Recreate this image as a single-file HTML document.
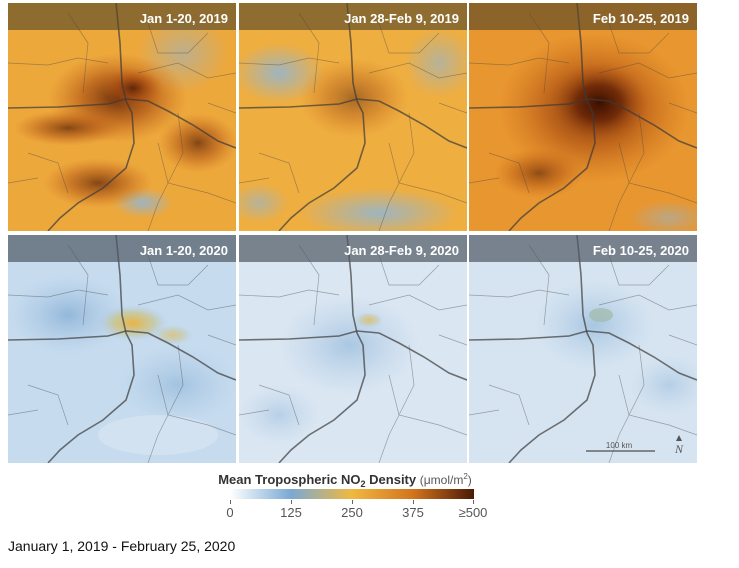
<!DOCTYPE html>
<html><head><meta charset="utf-8"><style>
body{margin:0;background:#fff;width:739px;height:568px;overflow:hidden;font-family:"Liberation Sans",sans-serif}
</style></head><body>
<svg width="739" height="568" viewBox="0 0 739 568" xmlns="http://www.w3.org/2000/svg" style="position:absolute;left:0;top:0">
<defs>
<clipPath id="pc"><rect width="228" height="228"/></clipPath>
<radialGradient id="hotA"><stop offset="0" stop-color="#5a2006" stop-opacity="0.9"/><stop offset="0.5" stop-color="#a4470f" stop-opacity="0.6"/><stop offset="1" stop-color="#c8641a" stop-opacity="0"/></radialGradient>
<radialGradient id="hotB"><stop offset="0" stop-color="#3a1002" stop-opacity="1"/><stop offset="0.45" stop-color="#6a2606" stop-opacity="0.85"/><stop offset="1" stop-color="#c0601a" stop-opacity="0"/></radialGradient>
<radialGradient id="blueP"><stop offset="0" stop-color="#8fb6d8" stop-opacity="0.85"/><stop offset="1" stop-color="#8fb6d8" stop-opacity="0"/></radialGradient>
<radialGradient id="yelP"><stop offset="0" stop-color="#e9b443" stop-opacity="1"/><stop offset="0.6" stop-color="#c9c07a" stop-opacity="0.6"/><stop offset="1" stop-color="#a9c6e0" stop-opacity="0"/></radialGradient>
<radialGradient id="bluD"><stop offset="0" stop-color="#8db4d8" stop-opacity="0.9"/><stop offset="1" stop-color="#a9c8e4" stop-opacity="0"/></radialGradient>
<linearGradient id="cbar" x1="0" x2="1"><stop offset="0" stop-color="#ffffff"/><stop offset="0.25" stop-color="#7aa9d4"/><stop offset="0.5" stop-color="#f0b840"/><stop offset="0.75" stop-color="#d2741e"/><stop offset="1" stop-color="#4a1a06"/></linearGradient>
<g id="roads" fill="none">
<path d="M108 0 L112 40 L114 80 L118 98 L124 110 L126 140 L118 165 L95 185 L70 200 L52 215 L40 228" stroke="#3a3a3a" stroke-width="1.6" stroke-opacity="0.7"/>
<path d="M0 105 L50 104 L100 101 L118 96 L140 98 L160 108 L185 122 L210 138 L228 145" stroke="#3a3a3a" stroke-width="1.6" stroke-opacity="0.7"/>
<path d="M0 60 L40 62 L70 55 L100 60 M130 70 L170 60 L200 75 L228 70 M20 150 L50 160 L60 190 M150 140 L160 180 L200 190 L228 200 M140 20 L150 50 L180 50 L200 30 M60 10 L80 40 L75 90 M170 110 L175 150 L150 200 L140 228 M0 180 L30 175 M200 100 L228 110" stroke="#444" stroke-width="0.7" stroke-opacity="0.45"/>
</g>
</defs>
<!-- Panel 1 -->
<g transform="translate(8,3)"><g clip-path="url(#pc)"><rect width="228" height="228" fill="#eda83c"/>
<ellipse cx="175" cy="50" rx="45" ry="40" fill="url(#blueP)" opacity="0.6"/>
<ellipse cx="135" cy="200" rx="30" ry="15" fill="url(#blueP)"/>
<ellipse cx="110" cy="95" rx="70" ry="45" fill="url(#hotA)"/>
<ellipse cx="125" cy="85" rx="30" ry="20" fill="url(#hotA)"/>
<ellipse cx="60" cy="125" rx="55" ry="18" fill="url(#hotA)" opacity="0.8"/>
<ellipse cx="90" cy="180" rx="55" ry="25" fill="url(#hotA)" opacity="0.8"/>
<ellipse cx="190" cy="140" rx="40" ry="30" fill="url(#hotA)" opacity="0.8"/>
<use href="#roads"/><rect width="228" height="27" fill="#5a4a28" opacity="0.65"/></g>
<text x="220" y="20" text-anchor="end" font-size="13" font-weight="bold" fill="#fff">Jan 1-20, 2019</text></g>
<!-- Panel 2 -->
<g transform="translate(239,3)"><g clip-path="url(#pc)"><rect width="228" height="228" fill="#efae40"/>
<ellipse cx="40" cy="70" rx="45" ry="30" fill="url(#blueP)"/>
<ellipse cx="200" cy="60" rx="35" ry="35" fill="url(#blueP)" opacity="0.7"/>
<ellipse cx="140" cy="210" rx="80" ry="25" fill="url(#blueP)"/>
<ellipse cx="20" cy="200" rx="30" ry="20" fill="url(#blueP)" opacity="0.7"/>
<ellipse cx="115" cy="95" rx="55" ry="40" fill="url(#hotA)" opacity="0.55"/>
<use href="#roads"/><rect width="228" height="27" fill="#5a4a28" opacity="0.65"/></g>
<text x="220" y="20" text-anchor="end" font-size="13" font-weight="bold" fill="#fff">Jan 28-Feb 9, 2019</text></g>
<!-- Panel 3 -->
<g transform="translate(469,3)"><g clip-path="url(#pc)"><rect width="228" height="228" fill="#e8962f"/>
<ellipse cx="200" cy="215" rx="40" ry="18" fill="url(#blueP)" opacity="0.6"/>
<ellipse cx="125" cy="105" rx="95" ry="75" fill="url(#hotA)"/>
<ellipse cx="130" cy="100" rx="50" ry="40" fill="url(#hotB)"/>
<ellipse cx="70" cy="170" rx="45" ry="25" fill="url(#hotA)" opacity="0.7"/>
<use href="#roads"/><rect width="228" height="27" fill="#5a4a28" opacity="0.65"/></g>
<text x="220" y="20" text-anchor="end" font-size="13" font-weight="bold" fill="#fff">Feb 10-25, 2019</text></g>
<!-- Panel 4 -->
<g transform="translate(8,235)"><g clip-path="url(#pc)"><rect width="228" height="228" fill="#c6dbee"/>
<ellipse cx="60" cy="80" rx="60" ry="40" fill="url(#bluD)"/>
<ellipse cx="170" cy="150" rx="60" ry="40" fill="url(#bluD)" opacity="0.7"/>
<ellipse cx="150" cy="200" rx="60" ry="20" fill="#e6eef6" opacity="0.4"/>
<ellipse cx="125" cy="88" rx="35" ry="18" fill="url(#yelP)"/>
<ellipse cx="165" cy="100" rx="20" ry="10" fill="url(#yelP)" opacity="0.6"/>
<use href="#roads"/><rect width="228" height="27" fill="#4e5864" opacity="0.7"/></g>
<text x="220" y="20" text-anchor="end" font-size="13" font-weight="bold" fill="#fff">Jan 1-20, 2020</text></g>
<!-- Panel 5 -->
<g transform="translate(239,235)"><g clip-path="url(#pc)"><rect width="228" height="228" fill="#dae6f2"/>
<ellipse cx="110" cy="110" rx="70" ry="50" fill="url(#bluD)" opacity="0.7"/>
<ellipse cx="40" cy="180" rx="40" ry="30" fill="url(#bluD)" opacity="0.5"/>
<ellipse cx="130" cy="85" rx="14" ry="8" fill="url(#yelP)" opacity="0.7"/>
<use href="#roads"/><rect width="228" height="27" fill="#4e5864" opacity="0.7"/></g>
<text x="220" y="20" text-anchor="end" font-size="13" font-weight="bold" fill="#fff">Jan 28-Feb 9, 2020</text></g>
<!-- Panel 6 -->
<g transform="translate(469,235)"><g clip-path="url(#pc)"><rect width="228" height="228" fill="#d6e4f1"/>
<ellipse cx="125" cy="90" rx="60" ry="45" fill="url(#bluD)" opacity="0.7"/>
<ellipse cx="200" cy="150" rx="40" ry="30" fill="url(#bluD)" opacity="0.5"/>
<ellipse cx="132" cy="80" rx="12" ry="7" fill="#9fb9a8" opacity="0.7"/>
<use href="#roads"/><rect width="228" height="27" fill="#4e5864" opacity="0.7"/></g>
<text x="220" y="20" text-anchor="end" font-size="13" font-weight="bold" fill="#fff">Feb 10-25, 2020</text>
<line x1="117" y1="216" x2="186" y2="216" stroke="#666" stroke-width="1.5"/>
<text x="150" y="213" text-anchor="middle" font-size="8" fill="#555">100 km</text>
<path d="M210 200 L213 206 L207 206 Z" fill="#555"/>
<text x="210" y="218" text-anchor="middle" font-size="12" font-style="italic" fill="#555" font-family="Liberation Serif,serif">N</text></g>
<!-- Legend -->
<text x="345" y="484" text-anchor="middle" font-size="13" fill="#333"><tspan font-weight="bold">Mean Tropospheric NO</tspan><tspan font-weight="bold" font-size="9" dy="3">2</tspan><tspan font-weight="bold" dy="-3"> Density </tspan><tspan fill="#555" font-size="12">(μmol/m</tspan><tspan fill="#555" font-size="8" dy="-5">2</tspan><tspan fill="#555" font-size="12" dy="5">)</tspan></text>
<rect x="230" y="489" width="244" height="10" fill="url(#cbar)"/>
<g stroke="#666" stroke-width="1"><line x1="230.5" y1="500" x2="230.5" y2="504"/><line x1="291.5" y1="500" x2="291.5" y2="504"/><line x1="352.5" y1="500" x2="352.5" y2="504"/><line x1="413.5" y1="500" x2="413.5" y2="504"/><line x1="473.5" y1="500" x2="473.5" y2="504"/></g>
<g font-size="13" fill="#555" text-anchor="middle"><text x="230" y="517">0</text><text x="291" y="517">125</text><text x="352" y="517">250</text><text x="413" y="517">375</text><text x="473" y="517">≥500</text></g>
<text x="8" y="551" font-size="14" fill="#111">January 1, 2019 - February 25, 2020</text>
</svg>
</body></html>
